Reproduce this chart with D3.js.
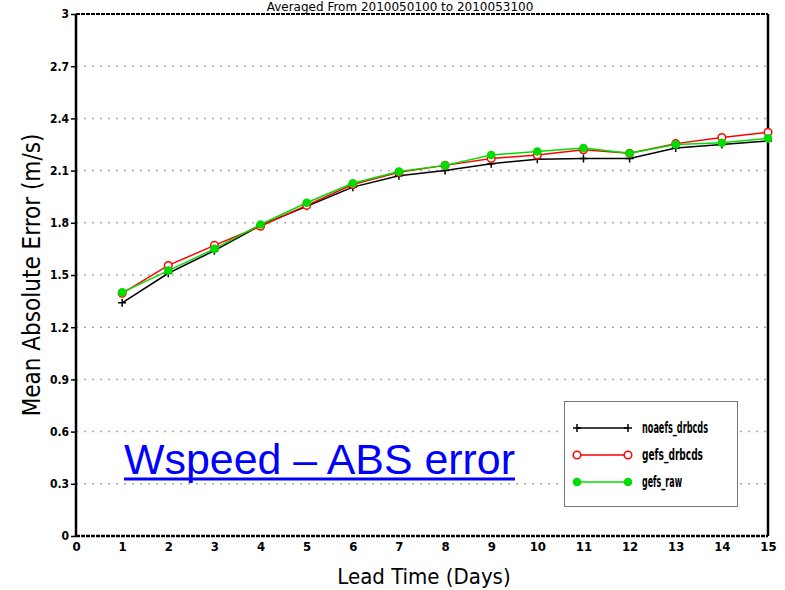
<!DOCTYPE html>
<html><head><meta charset="utf-8">
<script src="https://cdn.jsdelivr.net/npm/d3@7"></script>
<style>body{margin:0;background:#fff}svg{display:block}</style>
</head><body>
<svg id="c" width="785" height="590"></svg>
<script>
const days = [1,2,3,4,5,6,7,8,9,10,11,12,13,14,15];
const noaefsDrbcds = [1.34,1.51,1.64,1.785,1.895,2.005,2.07,2.10,2.14,2.165,2.17,2.17,2.23,2.25,2.27];
const gefsDrbcds   = [1.395,1.555,1.67,1.78,1.90,2.02,2.09,2.13,2.17,2.19,2.22,2.20,2.255,2.29,2.32];
const gefsRaw      = [1.40,1.525,1.65,1.79,1.915,2.027,2.095,2.13,2.19,2.21,2.23,2.20,2.25,2.26,2.285];
const xTicks = [0,1,2,3,4,5,6,7,8,9,10,11,12,13,14,15];
const yTicks = [0,0.3,0.6,0.9,1.2,1.5,1.8,2.1,2.4,2.7,3];
const yTickLabels = ["0","0.3","0.6","0.9","1.2","1.5","1.8","2.1","2.4","2.7","3"];
const seriesNames = ["noaefs_drbcds","gefs_drbcds","gefs_raw"];
const legendWidths = [66,61,40];
const titleText = "Averaged From 2010050100 to 2010053100";
const xTitle = "Lead Time (Days)";
const yTitle = "Mean Absolute Error (m/s)";
const annotation = "Wspeed \u2013 ABS error";

const svg = d3.select("#c");
const L = 76, R = 768, T = 14, B = 536;
const x = d3.scaleLinear().domain([0,15]).range([L,R]);
const y = d3.scaleLinear().domain([0,3]).range([B,T]);
const tickFont = "'DejaVu Sans Condensed','Liberation Sans Narrow',sans-serif";

// title (at the very top edge, as in the reference)
svg.append("text").attr("x",400).attr("y",10.5).attr("text-anchor","middle")
  .attr("font-family","'DejaVu Sans',sans-serif").attr("font-size",12).attr("fill","#000").text(titleText);

// grid
svg.append("g").selectAll("line").data(yTicks.filter(v=>v>0&&v<3)).join("line")
  .attr("x1",L).attr("x2",R).attr("y1",d=>y(d)).attr("y2",d=>y(d))
  .attr("stroke","#aaa").attr("stroke-width",1.5).attr("stroke-dasharray","2,6");

// y axis
const yAxis = d3.axisLeft(y).tickValues(yTicks).tickFormat((d,i)=>yTickLabels[i]).tickSize(5).tickPadding(2);
const gy = svg.append("g").attr("transform",`translate(${L},0)`).call(yAxis);
gy.select(".domain").remove();
gy.selectAll("line").attr("stroke","#000").attr("stroke-width",1.5);
gy.selectAll("text").attr("font-family",tickFont).attr("font-weight","bold").attr("font-size",12).attr("fill","#000");

// x axis
const xAxis = d3.axisBottom(x).tickValues(xTicks).tickFormat(d3.format("d")).tickSize(0).tickPadding(6);
const gx = svg.append("g").attr("transform",`translate(0,${B})`).call(xAxis);
gx.select(".domain").remove();
gx.selectAll("text").attr("font-family",tickFont).attr("font-weight","bold").attr("font-size",13).attr("fill","#000");

// frame
svg.append("line").attr("x1",L).attr("x2",L).attr("y1",T).attr("y2",B).attr("stroke","#000").attr("stroke-width",2.5);
svg.append("line").attr("x1",R).attr("x2",R).attr("y1",T).attr("y2",B).attr("stroke","#000").attr("stroke-width",2.5);
svg.append("line").attr("x1",L).attr("x2",R).attr("y1",T).attr("y2",T).attr("stroke","#000").attr("stroke-width",2).attr("stroke-dasharray","4,1");
svg.append("line").attr("x1",L).attr("x2",R).attr("y1",B).attr("y2",B).attr("stroke","#000").attr("stroke-width",2.5).attr("stroke-dasharray","4,1");

// axis titles
svg.append("text").attr("x",424).attr("y",584).attr("text-anchor","middle")
  .attr("font-family",tickFont).attr("font-size",22).attr("fill","#000").text(xTitle);
svg.append("text").attr("transform","translate(40,275) rotate(-90)").attr("text-anchor","middle")
  .attr("font-family",tickFont).attr("font-size",24).attr("fill","#000").text(yTitle);

// series
const line = d3.line().x((d,i)=>x(days[i])).y(d=>y(d));
function plus(g, cx, cy, col){
  g.append("path").attr("d",`M${cx-4},${cy}H${cx+4}M${cx},${cy-4}V${cy+4}`).attr("stroke",col).attr("stroke-width",1.5);
}
svg.append("path").datum(noaefsDrbcds).attr("d",line).attr("fill","none").attr("stroke","#000").attr("stroke-width",1.5);
const gb = svg.append("g");
noaefsDrbcds.forEach((v,i)=>plus(gb,x(days[i]),y(v),"#000"));
svg.append("path").datum(gefsDrbcds).attr("d",line).attr("fill","none").attr("stroke","#f00").attr("stroke-width",1.5);
svg.append("g").selectAll("circle").data(gefsDrbcds).join("circle")
  .attr("cx",(d,i)=>x(days[i])).attr("cy",d=>y(d)).attr("r",3.8).attr("fill","#fff").attr("stroke","#f00").attr("stroke-width",1.5);
svg.append("path").datum(gefsRaw).attr("d",line).attr("fill","none").attr("stroke","#0d0").attr("stroke-width",1.5);
svg.append("g").selectAll("circle").data(gefsRaw).join("circle")
  .attr("cx",(d,i)=>x(days[i])).attr("cy",d=>y(d)).attr("r",4.3).attr("fill","#0d0");

// legend
svg.append("rect").attr("x",564.5).attr("y",401.5).attr("width",173).attr("height",105)
  .attr("fill","#fff").attr("stroke","#777").attr("stroke-width",1);
const ly = [428,455,482];
const lg = svg.append("g");
lg.append("line").attr("x1",577).attr("x2",628).attr("y1",ly[0]).attr("y2",ly[0]).attr("stroke","#000").attr("stroke-width",1.5);
plus(lg,577,ly[0],"#000"); plus(lg,628,ly[0],"#000");
lg.append("line").attr("x1",577).attr("x2",628).attr("y1",ly[1]).attr("y2",ly[1]).attr("stroke","#f00").attr("stroke-width",1.5);
[577,628].forEach(cx=>lg.append("circle").attr("cx",cx).attr("cy",ly[1]).attr("r",3.8).attr("fill","#fff").attr("stroke","#f00").attr("stroke-width",1.5));
lg.append("line").attr("x1",577).attr("x2",628).attr("y1",ly[2]).attr("y2",ly[2]).attr("stroke","#0d0").attr("stroke-width",1.5);
[577,628].forEach(cx=>lg.append("circle").attr("cx",cx).attr("cy",ly[2]).attr("r",4.3).attr("fill","#0d0"));
lg.selectAll("text").data(seriesNames).join("text")
  .attr("x",642).attr("y",(d,i)=>ly[i]+5).attr("font-family",tickFont).attr("font-weight","bold")
  .attr("font-size",15).attr("fill","#000")
  .attr("textLength",(d,i)=>legendWidths[i]).attr("lengthAdjust","spacingAndGlyphs").text(d=>d);

// annotation
svg.append("text").attr("x",124).attr("y",474).attr("font-family","'Liberation Sans',Arial,sans-serif")
  .attr("font-size",43).attr("fill","#00f").attr("textLength",391).attr("lengthAdjust","spacingAndGlyphs").text(annotation);
svg.append("rect").attr("x",124).attr("y",477.5).attr("width",391).attr("height",3).attr("fill","#00f");
</script>
</body></html>
